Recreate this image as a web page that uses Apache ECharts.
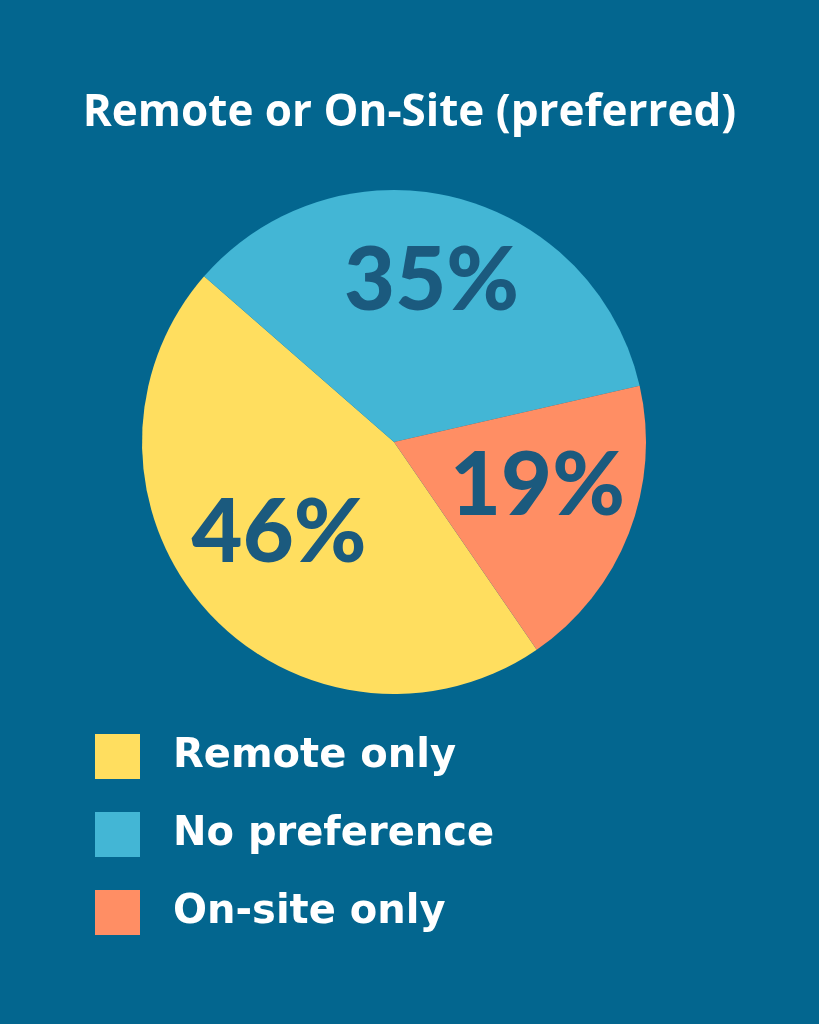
<!DOCTYPE html>
<html>
<head>
<meta charset="utf-8">
<script src="https://cdn.jsdelivr.net/npm/echarts@6/dist/echarts.min.js"></script>
<style>
  html, body { margin: 0; padding: 0; background: #03668F; }
  #chart { width: 819px; height: 1024px; }
</style>
</head>
<body>
<div id="chart"></div>
<script>
const titleText = 'Remote or On-Site (preferred)';
const categories = ['Remote only', 'No preference', 'On-site only'];
const values = [46, 35, 19];
const palette = ['#FFDE5F', '#43B6D5', '#FF8E64'];

const chart = echarts.init(document.getElementById('chart'), null, { renderer: 'canvas' });

const mainData = categories.map((name, i) => ({
  name: name,
  value: values[i],
  itemStyle: { color: palette[i] }
}));
const labelData = categories.map((name, i) => ({
  name: name,
  value: values[i],
  itemStyle: { color: 'rgba(0,0,0,0)' }
}));

chart.setOption({
  backgroundColor: '#03668F',
  animation: false,
  title: {
    text: titleText,
    left: 'center',
    top: 86,
    textStyle: {
      color: '#FFFFFF',
      fontFamily: 'Open Sans',
      fontWeight: 'bold',
      fontSize: 44
    }
  },
  legend: {
    orient: 'vertical',
    left: 90,
    top: 729,
    itemWidth: 45,
    itemHeight: 45,
    itemGap: 33,
    icon: 'rect',
    data: categories,
    selectedMode: false,
    textStyle: {
      color: '#FFFFFF',
      fontFamily: 'DejaVu Sans',
      fontWeight: 'bold',
      fontSize: 40,
      padding: [8, 0, 0, 28]
    }
  },
  series: [
    {
      type: 'pie',
      center: [394, 442],
      radius: [0, 252],
      startAngle: 304.5,
      clockwise: true,
      silent: true,
      label: { show: false },
      labelLine: { show: false },
      itemStyle: { borderWidth: 0 },
      data: mainData
    },
    {
      type: 'pie',
      center: [394, 442],
      radius: [50, 252],
      startAngle: 304.5,
      clockwise: true,
      silent: true,
      labelLine: { show: false },
      itemStyle: { borderWidth: 0 },
      label: {
        show: true,
        position: 'inside',
        formatter: '{c}%',
        color: '#1B5A7E',
        fontFamily: 'Lato',
        fontWeight: 900,
        fontSize: 88,
        offset: [0, -11]
      },
      data: labelData
    }
  ]
});
</script>
</body>
</html>
